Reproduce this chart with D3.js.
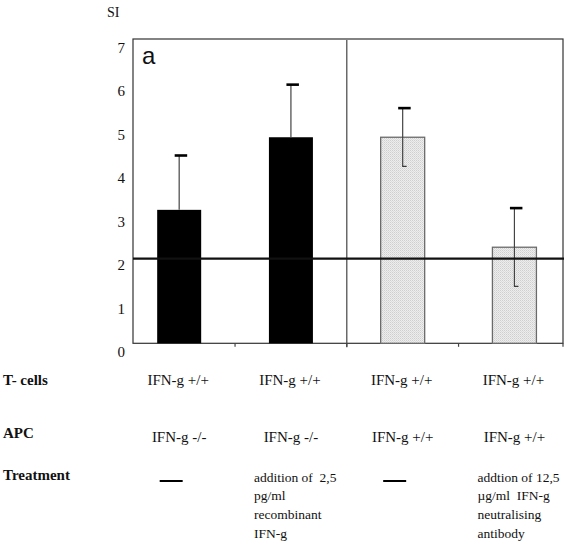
<!DOCTYPE html>
<html><head><meta charset="utf-8">
<script src="https://cdn.jsdelivr.net/npm/d3@7"></script>
</head>
<body style="margin:0">
<svg id="chart" width="568" height="542" style="font-family:'Liberation Serif'"></svg>
<script>
// ---- data ----
const categories = ["c1","c2","c3","c4"];
const siValues   = [3.07, 4.74, 4.74, 2.21];
const sdValues   = [1.25, 1.21, 0.67, 0.90];
const barKind    = ["black","black","light","light"];
const threshold  = 1.95;
const yTicks     = [0,1,2,3,4,5,6,7];
const tcellLabels = ["IFN-g +/+","IFN-g +/+","IFN-g +/+","IFN-g +/+"];
const apcLabels   = ["IFN-g -/-","IFN-g -/-","IFN-g +/+","IFN-g +/+"];
const treatmentLines = [
  null,
  ["addition of  2,5","pg/ml","recombinant","IFN-g"],
  null,
  ["addtion of 12,5","\u00b5g/ml  IFN-g","neutralising","antibody"]
];
const rowLabels = ["T- cells","APC","Treatment"];

// ---- layout ----
const SERIF = "Liberation Serif";
const svg = d3.select("#chart");
const plot = {left:133, right:563, top:39, bottom:343.3};
const y = d3.scaleLinear().domain([0,7]).range([plot.bottom, plot.top]);
const x = d3.scaleBand().domain(categories).range([123.3,570.3]).padding(0);
const barW = 44;
const cx = c => x(c) + x.bandwidth()/2;

function txt(sel){
  return sel.attr("font-family", SERIF).style("font-family", "'Liberation Serif'").attr("fill","#111");
}

// pattern for light bars
const defs = svg.append("defs");
const pat = defs.append("pattern").attr("id","stip").attr("patternUnits","userSpaceOnUse")
  .attr("width",2).attr("height",2);
pat.append("rect").attr("width",2).attr("height",2).attr("fill","#ededed");
pat.append("rect").attr("width",1).attr("height",1).attr("fill","#cfcfcf");
pat.append("rect").attr("x",1).attr("y",1).attr("width",1).attr("height",1).attr("fill","#dcdcdc");

// frame
svg.append("rect").attr("x",plot.left).attr("y",plot.top)
  .attr("width",plot.right-plot.left).attr("height",plot.bottom-plot.top)
  .attr("fill","none").attr("stroke","#333").attr("stroke-width",1.2);

// divider between groups
svg.append("line").attr("x1",x("c3")).attr("x2",x("c3"))
  .attr("y1",plot.top+1).attr("y2",plot.bottom+4)
  .attr("stroke","#444").attr("stroke-width",1.2);

// bottom ticks at band boundaries
svg.selectAll(".xt").data(categories.slice(1)).join("line")
  .attr("x1",d=>x(d)).attr("x2",d=>x(d))
  .attr("y1",plot.bottom).attr("y2",plot.bottom+3.5)
  .attr("stroke","#444").attr("stroke-width",1.2);
svg.append("line").attr("x1",plot.right).attr("x2",plot.right)
  .attr("y1",plot.bottom).attr("y2",plot.bottom+3.5).attr("stroke","#444").attr("stroke-width",1.2);

// y tick labels
txt(svg.selectAll(".yl").data(yTicks).join("text"))
  .attr("x",125).attr("y",d=>y(d)+14).attr("text-anchor","end")
  .attr("font-size",15).text(d=>d);
txt(svg.append("text")).attr("x",107).attr("y",17).attr("font-size",14).text("SI");

// panel letter
svg.append("text").attr("x",142).attr("y",63.5)
  .attr("font-family","Liberation Sans").style("font-family","'Liberation Sans'").attr("fill","#111")
  .attr("font-size",24).text("a");

// bars
svg.selectAll(".bar").data(categories).join("rect")
  .attr("x",(d)=>cx(d)-barW/2)
  .attr("y",(d,i)=>y(siValues[i]))
  .attr("width",barW)
  .attr("height",(d,i)=>y(0)-y(siValues[i]))
  .attr("fill",(d,i)=>barKind[i]==="black"?"#000":"url(#stip)")
  .attr("stroke",(d,i)=>barKind[i]==="black"?"#000":"#6a6a6a")
  .attr("stroke-width",(d,i)=>barKind[i]==="black"?0:1.3);

// error bars
categories.forEach((c,i)=>{
  const sx = cx(c);
  const top = y(siValues[i]+sdValues[i]);
  const low = barKind[i]==="black" ? y(siValues[i]) : y(siValues[i]-sdValues[i]);
  svg.append("line").attr("x1",sx).attr("x2",sx).attr("y1",top).attr("y2",low)
    .attr("stroke","#444").attr("stroke-width",1.2);
  svg.append("line").attr("x1",sx-4.5).attr("x2",sx+8).attr("y1",top).attr("y2",top)
    .attr("stroke","#000").attr("stroke-width",2.6);
  if(barKind[i]!=="black"){
    svg.append("line").attr("x1",sx-0.5).attr("x2",sx+4).attr("y1",low).attr("y2",low)
      .attr("stroke","#333").attr("stroke-width",1.2);
  }
});

// threshold line
svg.append("line").attr("x1",plot.left).attr("x2",plot.right+1)
  .attr("y1",y(threshold)).attr("y2",y(threshold))
  .attr("stroke","#111").attr("stroke-width",2.2);

// row labels
const rowY = [384.5, 437.5, 480];
rowLabels.forEach((t,i)=>{
  txt(svg.append("text")).attr("x",3).attr("y",rowY[i]).attr("font-size",15)
    .attr("font-weight","bold").text(t);
});
txt(svg.selectAll(".tc").data(categories).join("text"))
  .attr("x",d=>cx(d)-1).attr("y",385).attr("text-anchor","middle")
  .attr("font-size",15).text((d,i)=>tcellLabels[i]);
txt(svg.selectAll(".apc").data(categories).join("text"))
  .attr("x",d=>cx(d)).attr("y",442).attr("text-anchor","middle")
  .attr("font-size",15).text((d,i)=>apcLabels[i]);

// treatment
categories.forEach((c,i)=>{
  const lines = treatmentLines[i];
  if(!lines){
    svg.append("line").attr("x1",cx(c)-8-11.5).attr("x2",cx(c)-8+11.5)
      .attr("y1",481).attr("y2",481).attr("stroke","#000").attr("stroke-width",2);
  } else {
    const t = txt(svg.append("text")).attr("font-size",13.5).style("white-space","pre");
    lines.forEach((l,k)=>{
      t.append("tspan").attr("x",cx(c)-37).attr("y",481.5+k*18.8).text(l);
    });
  }
});
</script>
</body></html>
